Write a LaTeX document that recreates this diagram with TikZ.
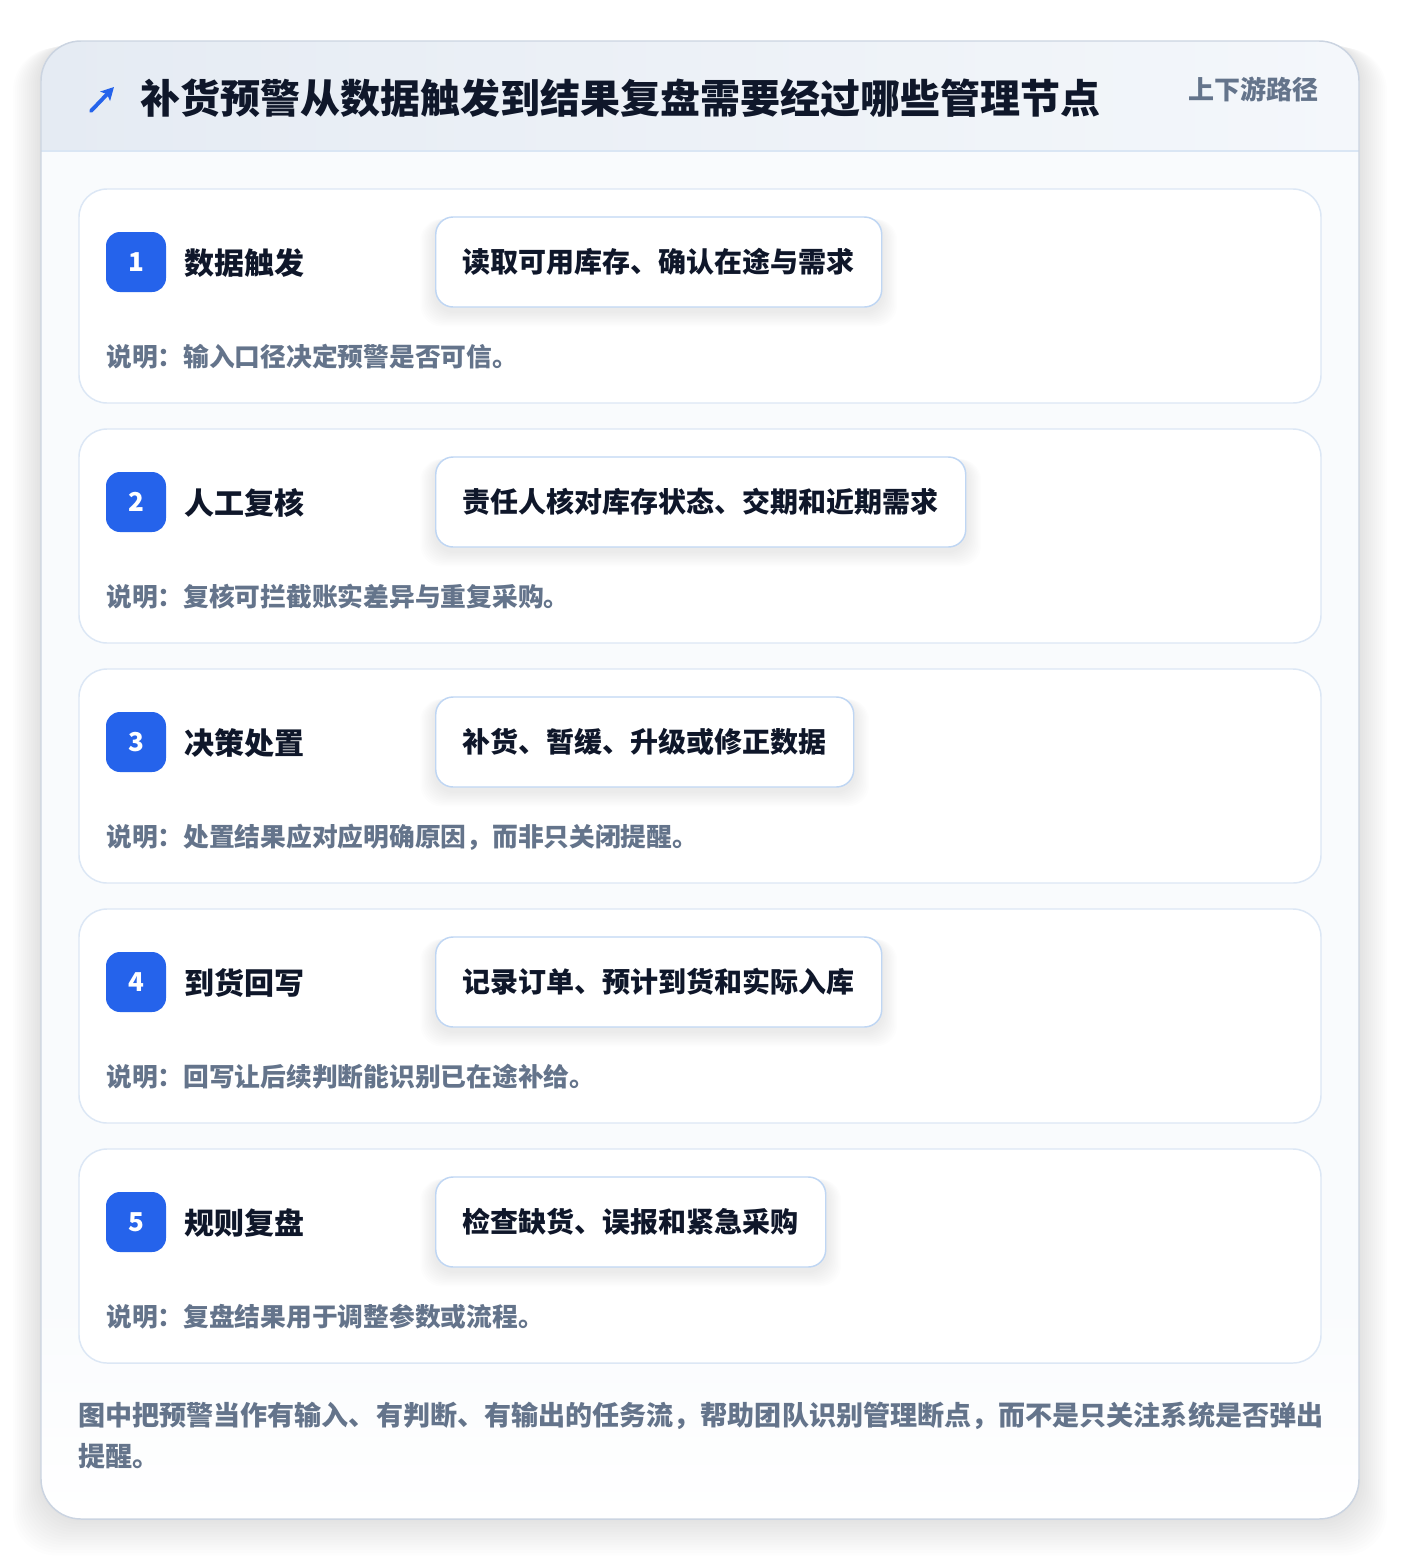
\documentclass[tikz,border=0pt]{standalone}
\usepackage{fontspec}
\setmainfont{Noto Sans CJK SC}
\usetikzlibrary{arrows.meta, positioning}
\pgfdeclarelayer{back}
\pgfdeclarelayer{glow}
\pgfsetlayers{back,glow,main}
\definecolor{pageBg}{HTML}{FFFFFF}
\definecolor{panelLine}{HTML}{CBD4E1}
\definecolor{panelFill}{HTML}{F9FBFD}
\definecolor{headLeft}{HTML}{E5EBF3}
\definecolor{headRight}{HTML}{F4F7FB}
\definecolor{headRule}{HTML}{DAE6F4}
\definecolor{cardLine}{HTML}{DCE7F5}
\definecolor{boxLine}{HTML}{BFD6F3}
\definecolor{accentBlue}{HTML}{2563EB}
\definecolor{inkDark}{HTML}{0F172A}
\definecolor{inkGray}{HTML}{64748B}
\tikzset{
  stepcard/.style={draw=cardLine, line width=1.1pt, fill=white, rounded corners=21pt},
  badge/.style={fill=accentBlue, text=white, rounded corners=10.5pt, minimum size=45pt,
    inner sep=0pt, font=\fontsize{19.5}{19.5}\selectfont\bfseries},
  steplabel/.style={anchor=west, inner sep=0pt, text=inkDark, font=\fontsize{22.5}{22.5}\selectfont\bfseries},
  actionbox/.style={anchor=west, draw=boxLine, line width=1.1pt, fill=white, rounded corners=13pt,
    minimum height=67.5pt, inner xsep=20.25pt, inner ysep=0pt, text=inkDark,
    font=\fontsize{21}{21}\selectfont\bfseries},
  notetext/.style={anchor=west, inner sep=0pt, text=inkGray, font=\fontsize{19.3}{19.3}\selectfont\bfseries},
}
\begin{document}
\begin{tikzpicture}[x=0.75pt, y=-0.75pt]
	\useasboundingbox (0,0) rectangle (1400,1560);
	\coordinate (panelNW) at (41,41);
	\coordinate (panelSE) at (1359,1519);
	\begin{pgfonlayer}{back}
	\fill[pageBg] (0,0) rectangle (1400,1560);
	% soft shadow round the panel
	\foreach \s in {1,...,14}
		\fill[black, opacity=0.0075, rounded corners=32pt] (41-2*\s,41+0.5*\s) rectangle (1359+2*\s,1519+2.6*\s);
	\fill[panelFill, rounded corners=30pt] (panelNW) rectangle (panelSE);
	\begin{scope}
		\clip[rounded corners=30pt] (panelNW) rectangle (panelSE);
		\shade[left color=headLeft, right color=headRight] (41,41) rectangle (1359,151);
		\shade[top color=panelFill, bottom color=white] (41,1300) rectangle (1359,1519);
	\end{scope}
	\end{pgfonlayer}
	\draw[headRule, line width=1.1pt] (41,151) -- (1359,151);
	\draw[panelLine, line width=1.1pt, rounded corners=30pt] (panelNW) rectangle (panelSE);
	% title
	\coordinate (arrS) at (91,111);
	\coordinate (arrE) at (114,87);
	\draw[accentBlue, line width=2.9pt, line cap=round, -{Stealth[length=9.5pt, width=10pt, inset=2pt]}] (arrS) -- (arrE);
	\node[anchor=west, inner sep=0pt, text=inkDark, font=\fontsize{30}{30}\selectfont\bfseries] (title) at (140,98)
		{补货预警从数据触发到结果复盘需要经过哪些管理节点};
	\node[anchor=west, inner sep=0pt, text=inkGray, font=\fontsize{19.5}{19.5}\selectfont\bfseries] (route) at (1188,89)
		{上下游路径};
	% steps
	\foreach \i/\lab/\act/\note in {
		1/数据触发/读取可用库存、确认在途与需求/说明：输入口径决定预警是否可信。,
		2/人工复核/责任人核对库存状态、交期和近期需求/说明：复核可拦截账实差异与重复采购。,
		3/决策处置/补货、暂缓、升级或修正数据/说明：处置结果应对应明确原因，而非只关闭提醒。,
		4/到货回写/记录订单、预计到货和实际入库/说明：回写让后续判断能识别已在途补给。,
		5/规则复盘/检查缺货、误报和紧急采购/说明：复盘结果用于调整参数或流程。}
	{
		\pgfmathsetmacro{\top}{189+240*(\i-1)}
		\begin{pgfonlayer}{back}
			\draw[stepcard] (79,\top) rectangle (1321,\top+214);
		\end{pgfonlayer}
		\node[badge] (num\i) at (136,\top+73) {\i};
		\node[steplabel] (lab\i) at (184,\top+74) {\lab};
		\node[actionbox] (act\i) at (435,\top+73) {\act};
		\begin{pgfonlayer}{glow}
			\foreach \k in {1,...,10}
				\fill[black, opacity=0.007, rounded corners=16pt]
					([xshift=-1.1*\k pt, yshift=-2pt]act\i.north west) rectangle ([xshift=1.1*\k pt, yshift=-3pt-1.1*\k pt]act\i.south east);
		\end{pgfonlayer}
		\node[notetext] (note\i) at (106,\top+168) {\note};
	}
	% closing remark
	\node[anchor=north west, inner sep=0pt, align=left, text=inkGray,
		font=\fontsize{20.3}{30.75}\selectfont\bfseries] (remark) at (78,1402)
		{图中把预警当作有输入、有判断、有输出的任务流，帮助团队识别管理断点，而不是只关注系统是否弹出\\提醒。};
\end{tikzpicture}
\end{document}
